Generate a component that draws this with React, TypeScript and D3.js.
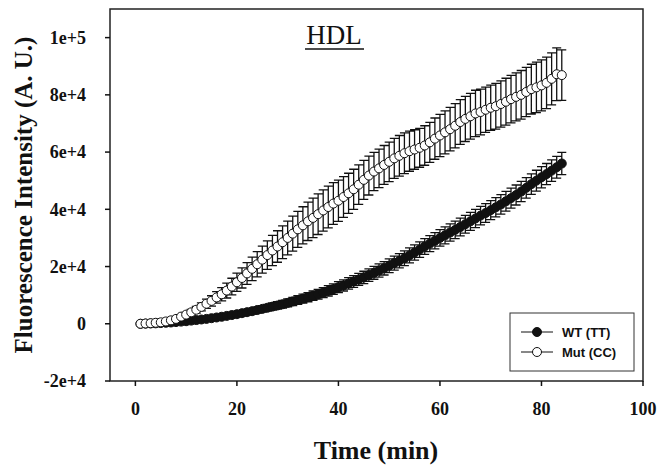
import React from 'react';
import * as d3 from 'd3';

const times = [1,2,3,4,5,6,7,8,9,10,11,12,13,14,15,16,17,18,19,20,21,22,23,24,25,26,27,28,29,30,31,32,33,34,35,36,37,38,39,40,41,42,43,44,45,46,47,48,49,50,51,52,53,54,55,56,57,58,59,60,61,62,63,64,65,66,67,68,69,70,71,72,73,74,75,76,77,78,79,80,81,82,83,84];

const wtMean = [0,50,100,150,250,350,450,600,750,900, 1100,1300,1500,1700,1950,2200,2450,2750,3050,3350, 3700,4050,4400,4800,5200,5600,6000,6400,6800,7300, 7800,8300,8800,9300,9800,10300,10900,11500,12100,12800, 13400,14100,14800,15500,16200,17000,17800,18600,19400,20300, 21200,22000,22900,23900,24900,25900,27000,28000,29000,30000, 30900,31900,32800,33800,34800,35800,36800,37800,38700,39700, 40700,41700,42800,43900,45000,46200,47500,48800,50000,51200, 52300,53500,54700,56000];
const wtErr = [100,150,150,200,200,250,300,300,350,400, 400,450,500,550,600,650,700,750,800,850, 900,950,1000,1050,1100,1150,1250,1300,1350,1400, 1450,1500,1550,1600,1650,1700,1750,1800,1850,1900, 1950,2000,2050,2100,2150,2200,2250,2300,2350,2400, 2450,2500,2550,2600,2650,2700,2750,2800,2850,2900, 2950,3000,3050,3100,3100,3150,3200,3250,3300,3300, 3350,3400,3450,3500,3500,3550,3600,3600,3650,3700, 3700,3750,3800,3900];

const mutMean = [0,100,200,350,500,800,1200,1700,2500,3200, 4000,4900,5900,7000,8000,9200,10300,11600,13000,14500, 16000,17600,19200,20800,22400,24000,25600,27000,28500,30000, 31500,33000,34400,35800,37000,38300,39600,40800,42000,43000, 44300,45600,47000,48600,50300,51800,53200,54300,55500,56600, 57800,58700,59600,60300,60900,61500,62300,63400,64700,65800, 66900,68000,69200,70500,71600,72500,73500,74000,74800,75500, 76000,76800,77600,78500,79300,80000,81000,82000,82600,83300, 84200,85600,87200,86900];
const mutErr = [100,150,200,250,300,400,500,600,700,800, 1000,1200,1400,1600,1800,2000,2300,2600,2900,3200, 3500,3800,4100,4400,4700,5000,5300,5500,5700,5900, 6100,6300,6500,6700,6900,7100,7200,7300,7300,7200, 7100,7000,7000,6900,6800,6800,6700,6700,6800,6900, 7000,7100,7100,7000,6900,6800,6900,7000,7200,7400, 7500,7600,7700,7800,7900,8000,8100,8000,7900,7900, 8000,8100,8200,8300,8400,8500,8600,8700,8800,8900, 9000,9100,9200,8800];

const xTicks = [0, 20, 40, 60, 80, 100];
const yTicks = [-20000, 0, 20000, 40000, 60000, 80000, 100000];
const yTickLabels = ['-2e+4', '0', '2e+4', '4e+4', '6e+4', '8e+4', '1e+5'];
const seriesNames = ['WT (TT)', 'Mut (CC)'];
const chartTitle = 'HDL';
const xTitle = 'Time (min)';
const yTitle = 'Fluorescence Intensity (A. U.)';

const L = 110, R = 643, T = 9, B = 381;
const x = d3.scaleLinear().domain([-5, 100]).range([L, R]);
const y = d3.scaleLinear().domain([-20000, 110000]).range([B, T]);

const serif = '"Liberation Serif", "Times New Roman", serif';
const sans = '"Liberation Sans", Arial, sans-serif';

function Series({ mean, err, filled }: { mean: number[]; err: number[]; filled: boolean }) {
  const pts = times.map((t, i) => ({ t, m: mean[i], e: err[i] }));
  const line = d3.line<{ t: number; m: number }>().x(d => x(d.t)).y(d => y(d.m));
  const cap = 4.5;
  const eb = pts
    .map(p => {
      const cx = x(p.t);
      const y1 = y(p.m + p.e);
      const y2 = y(p.m - p.e);
      return `M${cx},${y1}V${y2}M${cx - cap},${y1}H${cx + cap}M${cx - cap},${y2}H${cx + cap}`;
    })
    .join('');
  return (
    <g>
      <path d={eb} stroke="#111" strokeWidth={1.3} fill="none" />
      <path d={line(pts) || ''} stroke="#111" strokeWidth={1} fill="none" />
      {pts.map((p, i) => (
        <circle key={i} cx={x(p.t)} cy={y(p.m)} r={4.5} fill={filled ? '#111' : '#fff'} stroke="#111" strokeWidth={1} />
      ))}
    </g>
  );
}

export default function App() {
  return (
    <svg width={664} height={470} style={{ position: 'absolute', left: 0, top: 0, background: '#fff' }}>
      <rect x={0} y={0} width={664} height={470} fill="#fff" />
      <rect x={L} y={T} width={R - L} height={B - T} fill="none" stroke="#222" strokeWidth={1.5} />
      {yTicks.map((v, i) => (
        <g key={v}>
          <line x1={L - 5} x2={L} y1={y(v)} y2={y(v)} stroke="#111" strokeWidth={1.5} />
          <text x={L - 24} y={y(v)} dy="0.35em" textAnchor="end" fontFamily={serif} fontWeight="bold" fontSize={18} fill="#111">
            {yTickLabels[i]}
          </text>
        </g>
      ))}
      {xTicks.map(v => (
        <g key={v}>
          <line x1={x(v)} x2={x(v)} y1={B} y2={B + 5} stroke="#111" strokeWidth={1.5} />
          <text x={x(v)} y={415} textAnchor="middle" fontFamily={serif} fontWeight="bold" fontSize={18} fill="#111">
            {v}
          </text>
        </g>
      ))}
      <Series mean={wtMean} err={wtErr} filled={true} />
      <Series mean={mutMean} err={mutErr} filled={false} />
      <text x={334} y={44} textAnchor="middle" fontFamily={serif} fontSize={27} fill="#111">{chartTitle}</text>
      <line x1={305} x2={364} y1={49} y2={49} stroke="#111" strokeWidth={1.5} />
      <text x={376} y={459} textAnchor="middle" fontFamily={serif} fontWeight="bold" fontSize={26} fill="#111">{xTitle}</text>
      <text transform={`translate(32,${(T + B) / 2}) rotate(-90)`} textAnchor="middle" fontFamily={serif} fontWeight="bold" fontSize={25} fill="#111">{yTitle}</text>
      <g>
        <rect x={510} y={313} width={124} height={58} fill="#fff" stroke="#333" strokeWidth={1} />
        {seriesNames.map((name, i) => {
          const ly = 332 + i * 20;
          return (
            <g key={name}>
              <line x1={521} x2={553} y1={ly} y2={ly} stroke="#111" strokeWidth={1} />
              <circle cx={537} cy={ly} r={4.5} fill={i === 0 ? '#111' : '#fff'} stroke="#111" strokeWidth={1} />
              <text x={562} y={ly} dy="0.35em" fontFamily={sans} fontWeight="bold" fontSize={13} fill="#111">{name}</text>
            </g>
          );
        })}
      </g>
    </svg>
  );
}
